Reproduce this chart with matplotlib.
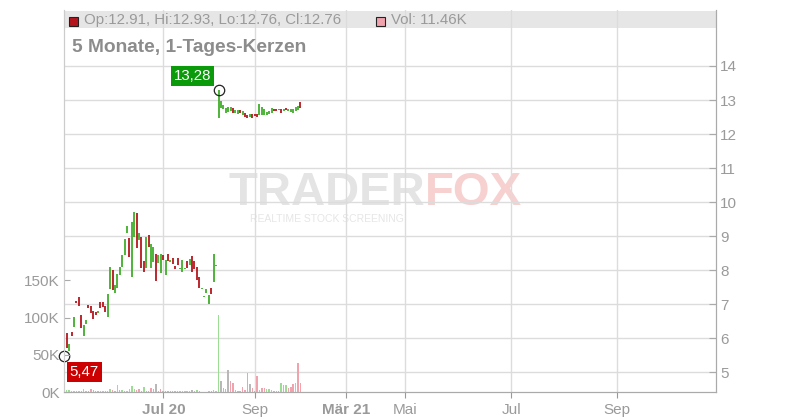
import matplotlib
matplotlib.use("Agg")
import matplotlib.pyplot as plt
from matplotlib.patches import Rectangle

plt.rcParams['font.family'] = ['Liberation Sans', 'DejaVu Sans']

# daily candles, one per trading day (index 0 = first day shown)
hi = [5.55, 6.14, 5.81, 6.19, 6.62, 7.09, 7.21, 6.68, 6.38, 6.53,
      6.97, 6.94, 6.79, 6.77, 6.79, 7.05, 7.07, 6.95, 7.29, 8.10,
      8.00, 7.56, 7.88, 8.10, 8.44, 8.91, 9.29, 8.95, 9.42, 9.70,
      9.67, 9.08, 8.98, 8.26, 8.98, 9.03, 8.76, 8.69, 8.46, 8.44,
      8.46, 8.44, 8.29, 8.46, 8.28, 8.36, 8.13, 8.36, 8.05, 8.29,
      8.07, 8.26, 8.32, 8.41, 8.26, 8.10, 7.80, 7.46, 7.23, 7.44,
      7.26, 7.48, 8.46, 8.15,
      13.28, 12.97, 12.86, 12.76, 12.78, 12.79, 12.77, 12.70, 12.71, 12.70,
      12.67, 12.63, 12.57, 12.60, 12.58, 12.60, 12.59, 12.89, 12.79, 12.73,
      12.65, 12.68, 12.76, 12.73, 12.73, 12.74, 12.73, 12.74, 12.76, 12.73,
      12.74, 12.73, 12.79, 12.81, 12.93]
lo = [5.47, 5.72, 5.62, 6.06, 6.32, 7.04, 6.95, 6.28, 6.07, 6.41,
      6.89, 6.74, 6.56, 6.68, 6.74, 6.89, 6.92, 6.77, 6.63, 7.44,
      7.41, 7.31, 7.46, 7.85, 8.10, 8.44, 9.08, 8.39, 7.80, 8.98,
      8.64, 8.88, 8.05, 7.95, 8.07, 8.69, 8.05, 8.24, 7.68, 8.20,
      7.90, 8.29, 7.85, 8.26, 8.25, 8.17, 8.03, 8.15, 8.02, 7.95,
      8.04, 8.07, 8.15, 7.95, 8.03, 7.71, 7.48, 7.43, 7.20, 7.31,
      7.01, 7.29, 7.64, 8.12,
      12.48, 12.76, 12.74, 12.63, 12.65, 12.67, 12.63, 12.63, 12.58, 12.62,
      12.57, 12.51, 12.47, 12.51, 12.48, 12.52, 12.49, 12.55, 12.55, 12.57,
      12.55, 12.58, 12.62, 12.68, 12.68, 12.70, 12.63, 12.68, 12.70, 12.67,
      12.65, 12.63, 12.67, 12.70, 12.76]
# 1 = rising candle (green), 0 = falling (red)
up = [0, 0, 1, 0, 1, 0, 0, 0, 1, 1,
      0, 0, 0, 0, 1, 0, 0, 0, 1, 1,
      0, 1, 1, 1, 1, 1, 1, 0, 1, 1,
      0, 1, 0, 0, 1, 0, 1, 1, 0, 1,
      1, 0, 1, 0, 1, 0, 0, 0, 1, 1,
      1, 0, 1, 0, 0, 0, 0, 1, 1, 1,
      1, 0, 1, 1,
      1, 1, 1, 1, 1, 1, 0, 1, 1, 0,
      1, 0, 0, 1, 0, 0, 0, 1, 1, 1,
      1, 1, 1, 0, 0, 1, 0, 1, 0, 1,
      1, 1, 1, 1, 0]

# volume in thousands, colour code g / r / n (neutral)
vol = [1.5, 2.2, 2.2, 0.8, 1.8, 1.3, 1.3, 0.8, 4.5, 1.8,
       1.3, 3.6, 2.7, 1.3, 1.3, 1.3, 1.3, 1.3, 1.3, 4.5,
       2.2, 1.3, 9.8, 2.2, 2.7, 1.3, 1.3, 4.5, 8.0, 3.6,
       2.2, 3.6, 1.3, 7.0, 1.3, 1.3, 6.0, 3.6, 11.0, 1.3,
       3.6, 1.3, 1.3, 0.8, 0.8, 1.3, 0.8, 0.8, 0.8, 1.3,
       0.8, 1.3, 1.3, 2.7, 1.3, 2.7, 0.8, 0.5, 0.5, 0.5,
       1.8, 0.8, 2.7, 0.8,
       103.0, 14.8, 5.4, 4.0, 29.5, 14.8, 12.0, 2.7, 1.3, 1.3,
       6.7, 2.7, 25.5, 10.7, 5.4, 0.8, 21.5, 2.7, 5.4, 5.4,
       4.0, 4.0, 2.7, 1.3, 1.3, 1.3, 12.0, 9.4, 9.4, 5.4,
       6.7, 10.7, 12.0, 39.0, 11.46]
vol_col = ("nggggrgrggnrrrrggrgg" "rrgrgrggggrrrgrrrrnr"
           "rrrrrrrrgggggnrgrrgg" "grgg"
           "gnrrnrrgrrrrrnrnrgrr" "gggrrngrgrrrgrr")

x_labels = ["Jul 20", "Sep", "Mär 21", "Mai", "Jul", "Sep"]
bold_labels = ["Jul 20", "Mär 21"]
# tick places on the trading-day axis
x_ticks = [41.1, 79.25, 116.8, 141.5, 185.5, 229.5]
price_ticks = list(range(5, 15))
vol_ticks = [0, 50, 100, 150]

GREEN = '#3fae2a'
RED = '#b5161c'
VCOL = {'g': '#9ddc95', 'r': '#f0a3ad', 'n': '#b8b8b8'}
TXT = '#9a9a9a'

fig = plt.figure(figsize=(8, 4.2), dpi=100)
ax = fig.add_axes([64 / 800, 28 / 420, 652 / 800, 382 / 420])
axv = ax.twinx()

n = len(hi)
xs = list(range(n))
ax.set_xlim(-0.15, 270.5)
ax.set_ylim(4.412, 15.647)
axv.set_ylim(0, 512800)

# header band
ax.set_axisbelow(True)
ax.add_patch(Rectangle((0, 0.953), 1, 0.044, transform=ax.transAxes,
                       facecolor='#e6e6e6', edgecolor='none', zorder=0.2))

# watermark
ax.text(0.554, 0.522, "TRADER", transform=ax.transAxes, ha='right', va='center',
        fontsize=34, fontweight='bold', color='#e4e4e4', zorder=0.3)
ax.text(0.554, 0.522, "FOX", transform=ax.transAxes, ha='left', va='center',
        fontsize=34, fontweight='bold', color='#f7d0d0', zorder=0.3)
ax.text(0.285, 0.452, "REALTIME STOCK SCREENING", transform=ax.transAxes,
        ha='left', va='center', fontsize=7.5, color='#e6e6e6', zorder=0.3)

# candles
colors = [GREEN if u else RED for u in up]
ax.vlines(xs, lo, hi, colors=colors, linewidth=1.3, zorder=3)

# volume
axv.bar(xs, [v * 1000 for v in vol], width=0.6,
        color=[VCOL[c] for c in vol_col], zorder=2)

# axes styling
ax.set_xticks(x_ticks)
ax.set_xticklabels(x_labels)
for t in ax.get_xticklabels():
    if t.get_text() in bold_labels:
        t.set_fontweight('bold')
ax.set_yticks(price_ticks)
ax.yaxis.set_ticks_position('right')
ax.yaxis.set_label_position('right')
ax.grid(True, color='#dcdcdc', linewidth=1)
ax.tick_params(axis='x', colors='#999999', labelcolor=TXT, labelsize=11,
               direction='out', length=4, pad=4)
ax.tick_params(axis='y', colors='#aaaaaa', labelcolor=TXT, labelsize=11,
               direction='in', length=5, pad=3)

axv.yaxis.set_ticks_position('left')
axv.yaxis.set_label_position('left')
axv.set_yticks([v * 1000 for v in vol_ticks])
axv.set_yticklabels([f"{v}K" for v in vol_ticks])
axv.tick_params(axis='y', colors='#aaaaaa', labelcolor=TXT, labelsize=11,
                direction='in', length=4, pad=3)

for a in (ax, axv):
    a.spines['top'].set_visible(False)
    a.spines['left'].set_color('#cccccc')
    a.spines['right'].set_color('#aaaaaa')
    a.spines['bottom'].set_color('#aaaaaa')

# high / low markers
i_hi = hi.index(max(hi))
i_lo = lo.index(min(lo))
for i, val, col, off in [(i_hi, hi[i_hi], '#0a9a0a', (-26, 14)),
                         (i_lo, lo[i_lo], '#cc0000', (20, -16))]:
    ax.plot(i, val, marker='o', ms=7.5, mfc='none', mec='#222222',
            mew=0.9, zorder=5, clip_on=False)
    ax.annotate(f"{val:.2f}".replace('.', ','), (i, val), xytext=off,
                textcoords='offset pixels', ha='center', va='center',
                fontsize=10.8, color='white', zorder=6,
                bbox=dict(boxstyle='square,pad=0.2', facecolor=col,
                          edgecolor='none'))

# header texts
fig.patches.append(Rectangle((68.5 / 800, 1 - 26 / 420), 9 / 800, 9 / 420,
                             transform=fig.transFigure, facecolor='#b5161c',
                             edgecolor='#222222', linewidth=0.8))
fig.text(84 / 800, 1 - 20 / 420, "Op:12.91, Hi:12.93, Lo:12.76, Cl:12.76",
         fontsize=10.8, color=TXT, va='center', ha='left')
fig.patches.append(Rectangle((375.5 / 800, 1 - 26 / 420), 9 / 800, 9 / 420,
                             transform=fig.transFigure, facecolor='#f0a3ad',
                             edgecolor='#222222', linewidth=0.8))
fig.text(391 / 800, 1 - 20 / 420, "Vol: 11.46K",
         fontsize=10.8, color=TXT, va='center', ha='left')
fig.text(72 / 800, 1 - 47 / 420, "5 Monate, 1-Tages-Kerzen",
         fontsize=13.8, fontweight='bold', color='#8c8c8c', va='center', ha='left')

fig.savefig("out.png", dpi=100)
